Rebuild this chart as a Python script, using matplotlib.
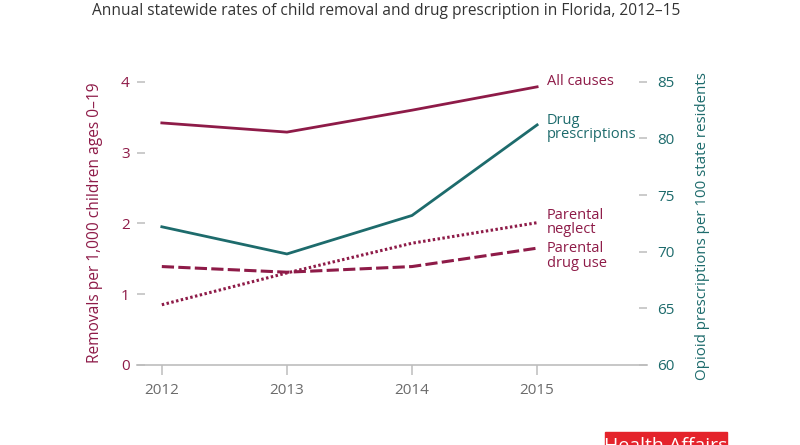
import matplotlib
matplotlib.use("Agg")
import matplotlib.pyplot as plt
from matplotlib.patches import Rectangle

plt.rcParams['font.family'] = ['Open Sans', 'DejaVu Sans']

# data
years = [2012, 2013, 2014, 2015]
all_causes = [3.42, 3.29, 3.60, 3.93]
parental_neglect = [0.85, 1.30, 1.72, 2.01]
parental_drug_use = [1.39, 1.31, 1.39, 1.65]
drug_prescriptions = [72.2, 69.8, 73.2, 81.2]   # right axis

left_ticks = [0, 1, 2, 3, 4]
right_ticks = [60, 65, 70, 75, 80, 85]

maroon = '#8e1b48'
teal = '#1d6b6c'
grey = '#bdbdbd'

fig = plt.figure(figsize=(8, 4.45), dpi=100)
ax = fig.add_axes([0.171, 0.18, 0.638, 0.636])
ax2 = ax.twinx()

ax.plot(years, all_causes, color=maroon, lw=2.0, clip_on=False)
ax.plot(years, parental_neglect, color=maroon, lw=2.2, ls=(0, (0.8, 0.8)), clip_on=False)
ax.plot(years, parental_drug_use, color=maroon, lw=2.2, ls=(0, (4, 1.4)), clip_on=False)
ax2.plot(years, drug_prescriptions, color=teal, lw=2.0, clip_on=False)

ax.set_xlim(2011.8, 2015.88)
ax.set_ylim(0, 4)
ax2.set_ylim(60, 85)

for a in (ax, ax2):
    for s in a.spines.values():
        s.set_visible(False)
ax.spines['bottom'].set_visible(True)
ax.spines['bottom'].set_color(grey)
ax.spines['bottom'].set_linewidth(1.2)

ax.set_xticks(years)
ax.set_xticklabels([str(y) for y in years])
ax.tick_params(axis='x', direction='out', length=7, width=1.1, color=grey,
               labelcolor='#6b6b6b', labelsize=11, pad=6)

ax.set_yticks(left_ticks)
ax.tick_params(axis='y', direction='in', length=6, width=1.1, color=grey,
               labelcolor=maroon, labelsize=11, pad=5)
ax2.set_yticks(right_ticks)
ax2.tick_params(axis='y', direction='in', length=6, width=1.1, color=grey,
                labelcolor=teal, labelsize=11, pad=7)

ax.set_ylabel('Removals per 1,000 children ages 0\u201319', color=maroon, fontsize=11.2)
ax.yaxis.set_label_coords(-0.066, 0.503)
ax2.set_ylabel('Opioid prescriptions per 100 state residents', color=teal, fontsize=10.9)
ax2.yaxis.set_label_coords(1.094, 0.49)

# series labels at line ends
lab = dict(textcoords='offset points', fontsize=10.5, ha='left', linespacing=0.95)
ax.annotate('All causes', xy=(years[-1], all_causes[-1]), xytext=(7, 4),
            color=maroon, va='center', **lab)
ax2.annotate('Drug\nprescriptions', xy=(years[-1], drug_prescriptions[-1]), xytext=(7, -2),
             color=teal, va='center', **lab)
ax.annotate('Parental\nneglect', xy=(years[-1], parental_neglect[-1]), xytext=(7, 0),
            color=maroon, va='center', **lab)
ax.annotate('Parental\ndrug use', xy=(years[-1], parental_drug_use[-1]), xytext=(7, 5),
            color=maroon, va='top', **lab)

fig.text(0.115, 1 - 11 / 445,
         'Annual statewide rates of child removal and drug prescription in Florida, 2012\u201315',
         fontsize=11.2, color='#333333', ha='left', va='center')

# journal badge, cut by the bottom edge as in the source image
fig.patches.append(Rectangle((605 / 800, 0), 122 / 800, 13 / 445, transform=fig.transFigure,
                             color='#e4232b', zorder=5))
fig.text(666 / 800, 8 / 445, 'Health Affairs', color='white', fontsize=14, ha='center',
         va='top', zorder=6)

fig.savefig('out.png', dpi=100)
